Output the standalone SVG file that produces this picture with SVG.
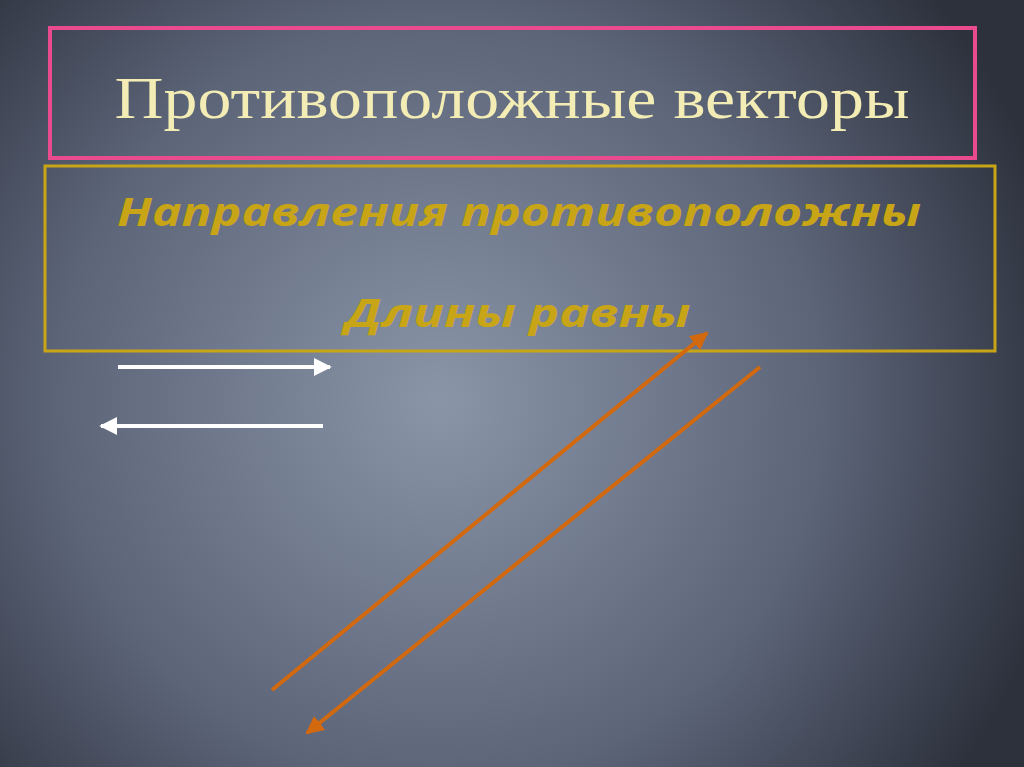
<svg xmlns="http://www.w3.org/2000/svg" width="1024" height="767" viewBox="0 0 1024 767">
<defs>
<radialGradient id="bg" cx="440" cy="400" r="640" gradientUnits="userSpaceOnUse">
<stop offset="0" stop-color="#8a95a8"/><stop offset="0.6" stop-color="#5c6478"/><stop offset="1" stop-color="#2c313c"/>
</radialGradient>
<marker id="aw" viewBox="0 0 10 10" refX="9" refY="5" markerWidth="4.5" markerHeight="4.5" orient="auto" markerUnits="strokeWidth"><path d="M0,0 L10,5 L0,10 Z" fill="#ffffff"/></marker>
<marker id="ao" viewBox="0 0 10 10" refX="9" refY="5" markerWidth="4.5" markerHeight="4.5" orient="auto" markerUnits="strokeWidth"><path d="M0,0 L10,5 L0,10 Z" fill="#d2690f"/></marker>
<style>
.w{stroke:#ffffff;stroke-width:4;fill:none}
.o{stroke:#d2690f;stroke-width:4;fill:none}
.t2{font-family:"Open Sans","Liberation Sans",sans-serif;font-weight:bold;font-style:italic;font-size:40px;fill:#c8a516;text-anchor:middle}
</style>
</defs>
<rect width="1024" height="767" fill="url(#bg)"/>
<g id="title"><rect x="50" y="28" width="925" height="130" fill="none" stroke="#ea4b8f" stroke-width="4"/>
<text x="512" y="118" font-family="Liberation Serif,serif" font-size="60" fill="#f3edb5" text-anchor="middle" textLength="795" lengthAdjust="spacingAndGlyphs">Противоположные векторы</text></g>
<g id="props"><rect x="45" y="166" width="950" height="185" fill="none" stroke="#c8a516" stroke-width="3"/>
<text class="t2" x="519" y="226" textLength="804" lengthAdjust="spacingAndGlyphs">Направления противоположны</text>
<text class="t2" x="518" y="327" textLength="345" lengthAdjust="spacingAndGlyphs">Длины равны</text></g>
<g id="connectors">
<line class="w" x1="118" y1="367" x2="330" y2="367" marker-end="url(#aw)"/>
<line class="w" x1="323" y1="426" x2="101" y2="426" marker-end="url(#aw)"/>
<line class="o" x1="272" y1="690" x2="707" y2="333" marker-end="url(#ao)"/>
<line class="o" x1="760" y1="367" x2="307" y2="733" marker-end="url(#ao)"/>
</g>
</svg>
